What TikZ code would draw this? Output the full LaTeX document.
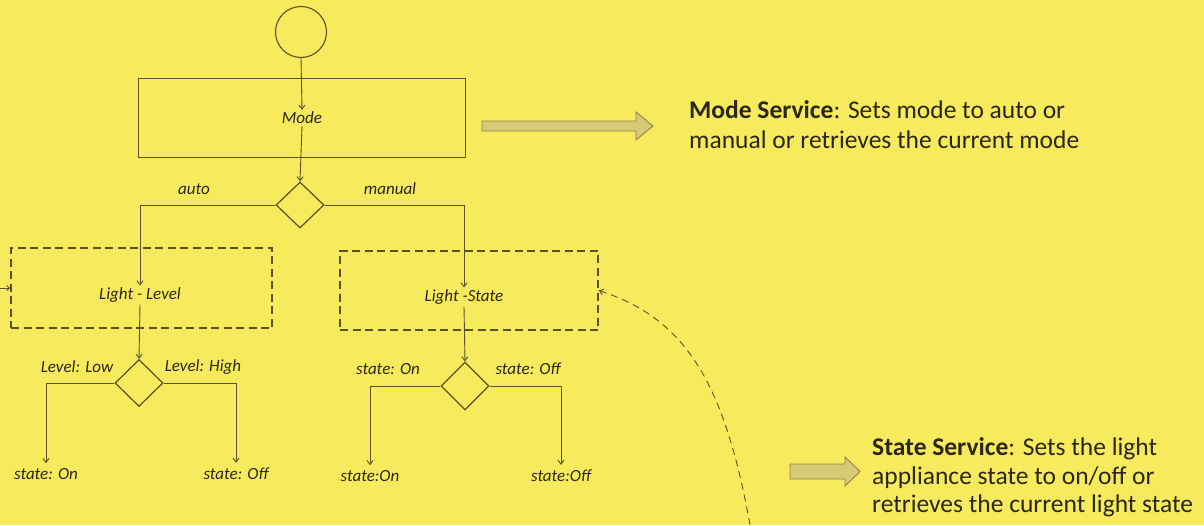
\documentclass[tikz,border=0pt]{standalone}
\usepackage{fontspec}
\setmainfont{Carlito}
\usetikzlibrary{shapes.geometric,arrows.meta}
\definecolor{bg}{RGB}{247,234,92}
\definecolor{ln}{RGB}{88,82,38}
\definecolor{tx}{RGB}{42,39,20}
\definecolor{arfill}{RGB}{214,202,118}
\definecolor{arline}{RGB}{140,130,72}
\tikzset{
  lab/.style={font=\itshape\fontsize{17}{20}\selectfont, text=tx, inner sep=2pt},
  endlab/.style={lab, inner ysep=5pt},
  solidbox/.style={draw=ln, line width=1pt, inner sep=0pt},
  dashbox/.style={draw=ln, line width=1.4pt, dash pattern=on 8pt off 4.5pt, inner sep=0pt},
  dec/.style={diamond, draw=ln, line width=1.2pt, inner sep=0pt},
  conn/.style={draw=ln, line width=0.9pt, -{Straight Barb[length=4pt,width=6pt]}},
  blockarrow/.style={draw=arline, fill=arfill, line width=0.9pt},
  svc/.style={text=tx, anchor=base west, inner sep=0pt, font=\fontsize{25.5}{30}\selectfont}
}
\begin{document}
\begin{tikzpicture}[x=1pt,y=-1pt]
\fill[bg] (0,0) rectangle (1204,525);
\useasboundingbox (0,0) rectangle (1204,525);

% start
\node[circle, draw=ln, line width=1.1pt, minimum size=51pt, inner sep=0pt] (start) at (301,32) {};
% mode box
\node[solidbox, minimum width=327pt, minimum height=79pt] (modebox) at (302,117.5) {};
\node[lab] (modetxt) at (302,118) {Mode};
\draw[conn] (start.south) -- (modetxt.north);
% decision 1
\node[dec, minimum width=48pt, minimum height=46pt] (d1) at (300,205) {};
\draw[conn] (modetxt.south) -- (d1.north);
\node[lab] (auto) at (194,189) {auto};
\node[lab] (manual) at (390,189) {manual};

% Light-Level box
\node[dashbox, minimum width=261pt, minimum height=80pt] (llbox) at (141.5,288) {};
\node[lab] (lltxt) at (140,295) {Light - Level};
\draw[conn] (d1.west) -| (lltxt.north);
\coordinate (llin) at (0,288);
\draw[draw=ln, line width=0.9pt, -{Straight Barb[length=3pt,width=5pt]}] (llin) -- (llbox.west);

% Light-State box
\node[dashbox, minimum width=258pt, minimum height=79pt] (lsbox) at (469,290.5) {};
\node[lab] (lstxt) at (464,297) {Light -State};
\draw[conn] (d1.east) -| (lstxt.north);
\coordinate (curvestart) at (750,525);
\draw[draw=ln, line width=0.9pt, dash pattern=on 7pt off 5pt, -{Straight Barb[length=4pt,width=6pt]}]
  (curvestart) .. controls (724,380) and (684,318) .. (lsbox.east);

% decision 2
\node[dec, minimum width=48pt, minimum height=47pt] (d2) at (139,383) {};
\draw[conn] (lltxt.south) -- (d2.north);
\node[lab] (lvlow) at (77,367) {Level: Low};
\node[lab] (lvhigh) at (203,367) {Level: High};
\node[endlab] (son1) at (46,474) {state: On};
\node[endlab] (soff1) at (236,474) {state: Off};
\draw[conn] (d2.west) -| (son1.north);
\draw[conn] (d2.east) -| (soff1.north);

% decision 3
\node[dec, minimum width=48pt, minimum height=48pt] (d3) at (465,386) {};
\draw[conn] (lstxt.south) -- (d3.north);
\node[lab] (son2l) at (388,369) {state: On};
\node[lab] (soff2l) at (528,369) {state: Off};
\node[endlab] (son2) at (370,476) {state:On};
\node[endlab] (soff2) at (561,476) {state:Off};
\draw[conn] (d3.west) -| (son2.north);
\draw[conn] (d3.east) -| (soff2.north);

% block arrows
\draw[blockarrow] (482,121) -- (636,121) -- (636,112) -- (653,126) -- (636,140) -- (636,131) -- (482,131) -- cycle;
\draw[blockarrow] (790,464) -- (845,464) -- (845,457) -- (860,471.5) -- (845,486) -- (845,479) -- (790,479) -- cycle;

% service texts
\node[svc] (mode1) at (689,118) {\textbf{Mode Service}: Sets mode to auto or};
\node[svc] (mode2) at (689,148) {manual or retrieves the current mode};
\node[svc] (st1) at (872,455) {\textbf{State Service}: Sets the light};
\node[svc] (st2) at (872,484) {appliance state to on/off or};
\node[svc] (st3) at (872,512) {retrieves the current light state};
\end{tikzpicture}
\end{document}
